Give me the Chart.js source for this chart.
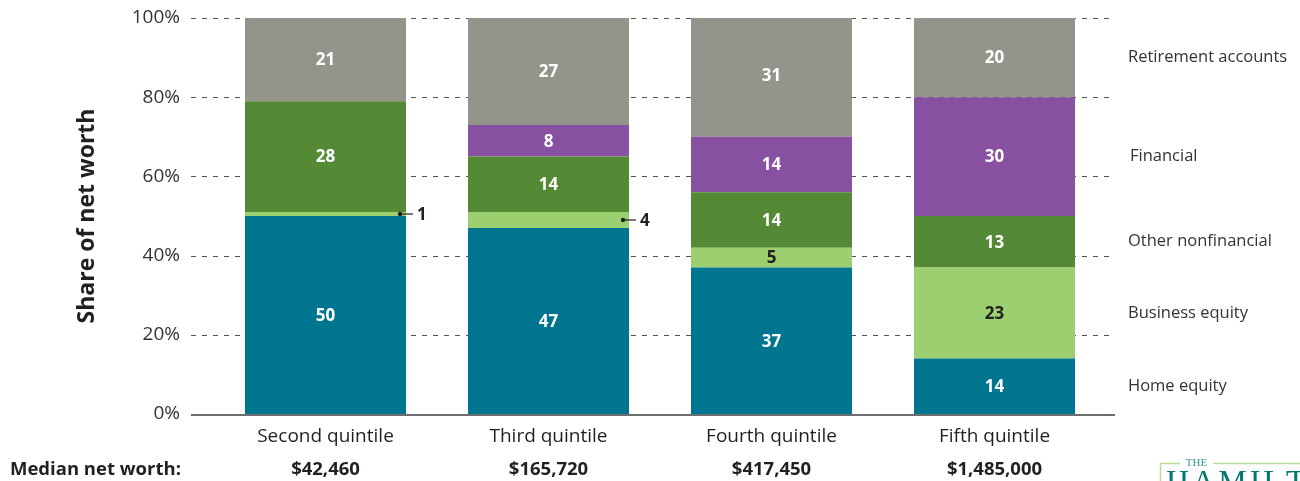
<!DOCTYPE html>
<html>
<head>
<meta charset="utf-8">
<title>Composition of net worth by wealth quintile</title>
<script src="https://cdn.jsdelivr.net/npm/chart.js@4.4.1/dist/chart.umd.min.js"></script>
<style>
  html, body { margin: 0; padding: 0; background: #ffffff; }
  #wrap { width: 1300px; height: 481px; overflow: hidden; }
  canvas { display: block; }
</style>
</head>
<body>
<div id="wrap"><canvas id="chart" width="1300" height="481"></canvas></div>
<script>
// Quintiles and their median net worth
const categories = ['Second quintile', 'Third quintile', 'Fourth quintile', 'Fifth quintile'];
const medianNetWorth = ['$42,460', '$165,720', '$417,450', '$1,485,000'];

// Share of net worth (percent) by asset type, bottom to top
const homeEquity = [50, 47, 37, 14];
const businessEquity = [1, 4, 5, 23];
const otherNonfinancial = [28, 14, 14, 13];
const financial = [0, 8, 14, 30];
const retirementAccounts = [21, 27, 31, 20];

const seriesNames = ['Home equity', 'Business equity', 'Other nonfinancial', 'Financial', 'Retirement accounts'];
const yTicks = [0, 20, 40, 60, 80, 100];

const FONT = '"Open Sans", "Noto Sans", sans-serif';
const TEXT = '#231f20';

const seriesData = [homeEquity, businessEquity, otherNonfinancial, financial, retirementAccounts];
const seriesColors = ['#00758f', '#9ccf6f', '#548935', '#8750a0', '#94948a'];
const labelColors = ['#ffffff', '#231f20', '#ffffff', '#ffffff', '#ffffff'];

// Dashed gridlines and the solid baseline, drawn across the full plot width
const gridPlugin = {
  id: 'gridLines',
  beforeDatasetsDraw(chart) {
    const { ctx, chartArea, scales } = chart;
    const x0 = chartArea.left - 23, x1 = chartArea.right + 9;
    ctx.save();
    ctx.strokeStyle = '#555555';
    ctx.lineWidth = 1;
    ctx.setLineDash([5, 6]);
    yTicks.forEach(v => {
      if (v === 0) return;
      const y = Math.round(scales.y.getPixelForValue(v)) + 0.5;
      ctx.beginPath();
      ctx.moveTo(x0, y);
      ctx.lineTo(x1, y);
      ctx.stroke();
    });
    ctx.restore();
  },
  afterDatasetsDraw(chart) {
    const { ctx, chartArea, scales } = chart;
    const y = scales.y.getPixelForValue(0) + 1;
    ctx.save();
    ctx.strokeStyle = '#6d6e71';
    ctx.lineWidth = 2;
    ctx.beginPath();
    ctx.moveTo(chartArea.left - 23, y);
    ctx.lineTo(chartArea.right + 9, y);
    ctx.stroke();
    ctx.restore();
  }
};

// Values inside each segment; thin segments get a leader line to the right
const valueLabelPlugin = {
  id: 'valueLabels',
  afterDatasetsDraw(chart) {
    const { ctx } = chart;
    ctx.save();
    ctx.font = 'bold 17px ' + FONT;
    ctx.textBaseline = 'middle';
    chart.data.datasets.forEach((ds, di) => {
      const meta = chart.getDatasetMeta(di);
      meta.data.forEach((el, i) => {
        const v = ds.data[i];
        if (!v) return;
        const cy = (el.y + el.base) / 2;
        if (v < 5) {
          const right = el.x + el.width / 2;
          ctx.fillStyle = '#231f20';
          ctx.strokeStyle = '#231f20';
          ctx.lineWidth = 1.2;
          ctx.beginPath();
          ctx.arc(right - 6, cy, 2.2, 0, Math.PI * 2);
          ctx.fill();
          ctx.beginPath();
          ctx.moveTo(right - 6, cy);
          ctx.lineTo(right + 7, cy);
          ctx.stroke();
          ctx.textAlign = 'left';
          ctx.fillText(String(v), right + 11, cy + 1);
        } else {
          ctx.fillStyle = labelColors[di];
          ctx.textAlign = 'center';
          ctx.fillText(String(v), el.x, cy + 1);
        }
      });
    });
    ctx.restore();
  }
};

// Series names beside the last column, plus the median net worth row and the logo
const sideTextPlugin = {
  id: 'sideText',
  afterDraw(chart) {
    const { ctx, scales } = chart;
    ctx.save();
    ctx.textBaseline = 'middle';

    ctx.font = '16.5px ' + FONT;
    ctx.fillStyle = '#333333';
    ctx.textAlign = 'left';
    chart.data.datasets.forEach((ds, di) => {
      const meta = chart.getDatasetMeta(di);
      const el = meta.data[meta.data.length - 1];
      const cy = (el.y + el.base) / 2;
      ctx.fillText(ds.label, ds.label === 'Financial' ? 1130 : 1128, cy);
    });

    ctx.font = 'bold 18.5px ' + FONT;
    ctx.fillStyle = TEXT;
    ctx.textAlign = 'left';
    ctx.fillText('Median net worth:', 10, 470);
    ctx.textAlign = 'center';
    medianNetWorth.forEach((t, i) => {
      ctx.fillText(t, scales.x.getPixelForValue(i), 470);
    });

    // Logo
    ctx.strokeStyle = '#b9dc97';
    ctx.lineWidth = 1.5;
    ctx.beginPath();
    ctx.moveTo(1180, 463.5);
    ctx.lineTo(1160.5, 463.5);
    ctx.lineTo(1160.5, 481);
    ctx.moveTo(1213, 463.5);
    ctx.lineTo(1300, 463.5);
    ctx.stroke();
    ctx.fillStyle = '#2e9a8c';
    ctx.font = '11px "Liberation Serif", "DejaVu Serif", serif';
    ctx.textAlign = 'center';
    ctx.fillText('THE', 1196.5, 463);
    ctx.fillStyle = '#00786e';
    ctx.font = '32px "Liberation Serif", "DejaVu Serif", serif';
    ctx.textAlign = 'left';
    ctx.textBaseline = 'alphabetic';
    let x = 1166;
    'HAMILTON'.split('').forEach(c => {
      ctx.fillText(c, x, 492);
      x += ctx.measureText(c).width + 3;
    });
    ctx.restore();
  }
};

new Chart(document.getElementById('chart'), {
  type: 'bar',
  data: {
    labels: categories,
    datasets: seriesData.map((d, i) => ({
      label: seriesNames[i],
      data: d,
      backgroundColor: seriesColors[i],
      borderWidth: 0,
      categoryPercentage: 1,
      barPercentage: 0.722
    }))
  },
  options: {
    responsive: false,
    animation: false,
    devicePixelRatio: 1,
    layout: { padding: { top: 18, right: 194, bottom: 0, left: 0 } },
    plugins: {
      legend: { display: false },
      tooltip: { enabled: false }
    },
    scales: {
      x: {
        stacked: true,
        grid: { display: false, drawTicks: false },
        border: { display: false },
        ticks: { font: { family: FONT, size: 19 }, color: TEXT, padding: 11 },
        afterFit(s) { s.height = 67; s.paddingLeft = 0; s.paddingRight = 0; }
      },
      y: {
        stacked: true,
        min: 0,
        max: 100,
        grid: { display: false, drawTicks: false },
        border: { display: false },
        afterBuildTicks(s) { s.ticks = yTicks.map(v => ({ value: v })); },
        ticks: {
          font: { family: FONT, size: 19 },
          color: '#333333',
          padding: 34,
          callback: v => v + '%'
        },
        title: {
          display: true,
          text: 'Share of net worth',
          font: { family: FONT, size: 23, weight: 'bold' },
          color: TEXT,
          padding: { top: 74, bottom: 0 }
        },
        afterFit(s) { s.width = 214; s.paddingTop = 0; s.paddingBottom = 0; }
      }
    }
  },
  plugins: [gridPlugin, valueLabelPlugin, sideTextPlugin]
});
</script>
</body>
</html>
